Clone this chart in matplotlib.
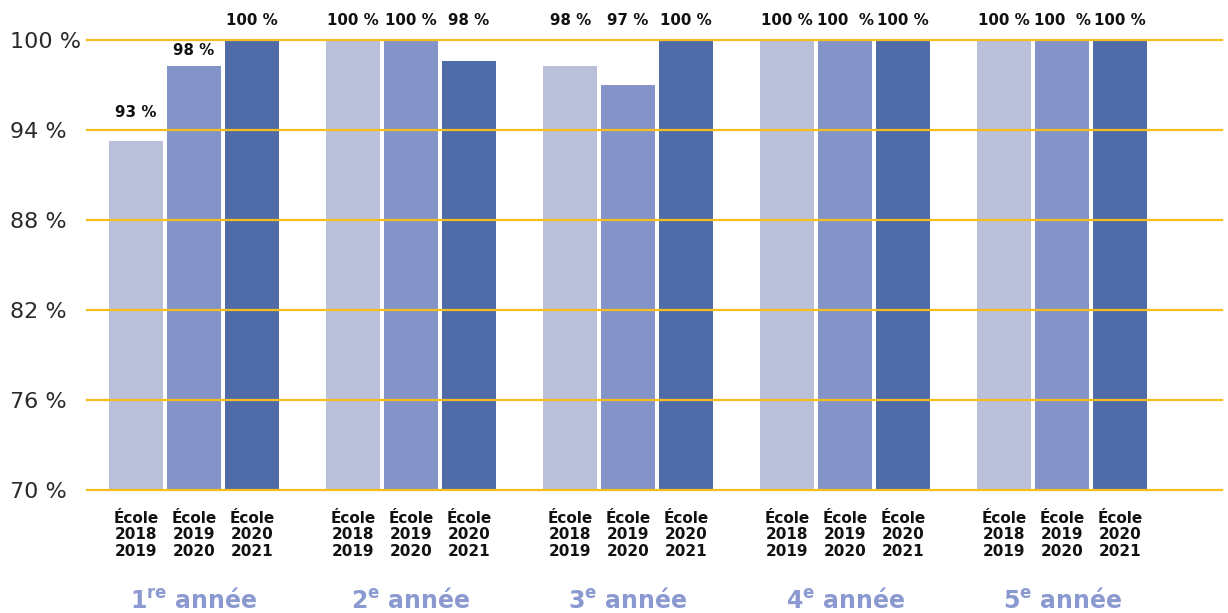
import numpy as np
import matplotlib
matplotlib.use("Agg")
import matplotlib.pyplot as plt

plt.rcParams['font.family'] = ['DejaVu Sans']
plt.rcParams['mathtext.fontset'] = 'dejavusans'

# data
groups = [r"1$^{\mathbf{re}}$ année", r"2$^{\mathbf{e}}$ année", r"3$^{\mathbf{e}}$ année",
          r"4$^{\mathbf{e}}$ année", r"5$^{\mathbf{e}}$ année"]
cohorts = ["École\n2018\n2019", "École\n2019\n2020", "École\n2020\n2021"]
s2018 = [93.3, 100, 98.3, 100, 100]
s2019 = [98.3, 100, 97.0, 100, 100]
s2020 = [100, 98.6, 100, 100, 100]
lbl2018 = ["93 %", "100 %", "98 %", "100 %", "100 %"]
lbl2019 = ["98 %", "100 %", "97 %", "100  %", "100  %"]
lbl2020 = ["100 %", "98 %", "100 %", "100 %", "100 %"]
yticks = [70, 76, 82, 88, 94, 100]

colors = ["#BAC0DA", "#8493C8", "#4F6CA9"]
gold = "#F5BE1A"

fig = plt.figure(figsize=(12.28, 6.13), dpi=100)
ax = fig.add_axes([0.0708, 0.2007, 0.9245, 0.734])

x = np.arange(len(groups))
step = 0.267
w = 0.249
series = [s2018, s2019, s2020]
labels = [lbl2018, lbl2019, lbl2020]
for i, (vals, lbls) in enumerate(zip(series, labels)):
    xs = x + (i - 1) * step
    ax.bar(xs, np.array(vals) - 70, bottom=70, width=w, color=colors[i], zorder=1)
    for j, (xx, v, t) in enumerate(zip(xs, vals, lbls)):
        # first group: labels sit just above each bar, the rest on one row
        if j == 0 and v < 100:
            ly = v + 1.9 if v < 95 else v + 1.0
        else:
            ly = 101.33
        ax.text(xx, ly, t, ha='center', va='center', fontsize=10.8,
                fontweight='bold', color='#111111', clip_on=False)
    for xx in xs:
        ax.text(xx, 68.6, cohorts[i], ha='center', va='top', fontsize=11,
                fontweight='bold', color='#111111', linespacing=1.12, clip_on=False)

for g, gx in zip(groups, x):
    ax.text(gx, 62.15, g, ha='center', va='baseline', fontsize=17,
            fontweight='bold', color='#8A99D0', clip_on=False)

ax.set_xlim(-0.493, 4.737)
ax.set_ylim(70, 100)
ax.set_yticks(yticks)
ax.set_yticklabels([f"{t} %" for t in yticks], ha='left', fontsize=16,
                   color='#2a2a2a')
ax.tick_params(axis='y', length=0, pad=55.5)
ax.set_xticks([])
for s in ax.spines.values():
    s.set_visible(False)
for t in yticks:
    ax.axhline(t, color=gold, lw=1.6, zorder=3, clip_on=False)

fig.savefig("out.png", dpi=100)
